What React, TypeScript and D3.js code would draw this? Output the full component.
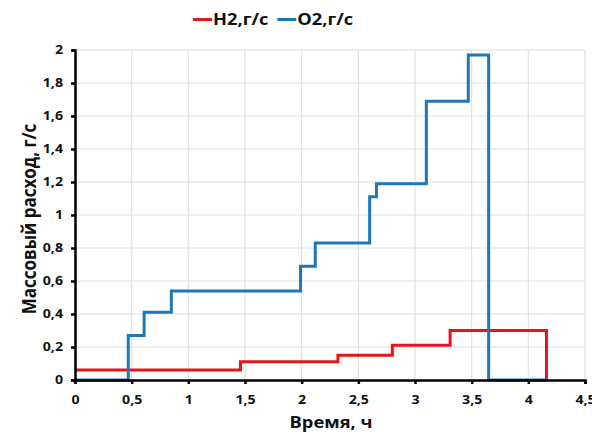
import React, { useEffect, useRef } from 'react';
import * as d3 from 'd3';

// step series: [time, value] - value holds from this time to the next point
const h2Steps: [number, number][] = [
  [0, 0.06], [1.46, 0.11], [2.32, 0.15], [2.8, 0.21], [3.31, 0.3], [4.16, 0]
];
const o2Steps: [number, number][] = [
  [0, 0], [0.47, 0.27], [0.61, 0.41], [0.85, 0.54], [1.99, 0.69], [2.12, 0.83],
  [2.6, 1.11], [2.66, 1.19], [3.1, 1.69], [3.47, 1.97], [3.65, 0], [4.16, 0]
];
const xTicks = [0, 0.5, 1, 1.5, 2, 2.5, 3, 3.5, 4, 4.5];
const yTicks = [0, 0.2, 0.4, 0.6, 0.8, 1, 1.2, 1.4, 1.6, 1.8, 2];

const series = [
  { name: 'H2,г/с', color: '#e8141b', data: h2Steps },
  { name: 'O2,г/с', color: '#1f77b8', data: o2Steps }
];

const W = 592, H = 435;
const FONT = '"Open Sans", "Noto Sans", sans-serif';
const SX = 1.18; // text in the source is a bit wide
const fmt = (v: number) => String(v).replace('.', ',');

export default function App() {
  const ref = useRef<SVGSVGElement>(null);

  useEffect(() => {
    document.body.style.margin = '0';
    document.body.style.overflow = 'hidden';

    const svg = d3.select(ref.current);
    svg.selectAll('*').remove();

    const m = { left: 75, right: 7, top: 50, bottom: 55 };
    const x = d3.scaleLinear().domain([0, 4.5]).range([m.left, W - m.right]);
    const y = d3.scaleLinear().domain([0, 2]).range([H - m.bottom, m.top]);

    svg.append('rect').attr('width', W).attr('height', H).attr('fill', 'white');

    // grid
    const grid = svg.append('g').attr('stroke', '#e0e0e0').attr('stroke-width', 1.2);
    xTicks.slice(1).forEach(t => {
      grid.append('line').attr('x1', x(t)).attr('x2', x(t)).attr('y1', y(0)).attr('y2', y(2));
    });
    yTicks.slice(1).forEach(t => {
      grid.append('line').attr('x1', x(0)).attr('x2', x(4.5)).attr('y1', y(t)).attr('y2', y(t));
    });

    // step lines
    const line = d3.line<[number, number]>()
      .x(d => x(d[0]))
      .y(d => y(d[1]))
      .curve(d3.curveStepAfter);

    series.forEach(s => {
      svg.append('path')
        .datum(s.data)
        .attr('d', line)
        .attr('fill', 'none')
        .attr('stroke', s.color)
        .attr('stroke-width', 3)
        .attr('stroke-linejoin', 'miter');
    });

    // axes
    const xAxis = svg.append('g')
      .attr('transform', `translate(0,${y(0)})`)
      .call(d3.axisBottom(x).tickValues(xTicks).tickFormat(d => fmt(d as number)).tickSize(4).tickPadding(11));
    const yAxis = svg.append('g')
      .attr('transform', `translate(${x(0)},0)`)
      .call(d3.axisLeft(y).tickValues(yTicks).tickFormat(d => fmt(d as number)).tickSize(4).tickPadding(6.2));

    [xAxis, yAxis].forEach(a => {
      a.select('.domain').attr('stroke', '#000').attr('stroke-width', 2.5);
      a.selectAll('.tick line').attr('stroke', '#000').attr('stroke-width', 2.5);
      a.selectAll('.tick text')
        .attr('fill', '#111')
        .attr('font-family', FONT)
        .attr('font-size', 12)
        .attr('font-weight', 700)
        .attr('transform', `scale(${SX},1)`);
    });

    // axis titles
    svg.append('text')
      .attr('transform', `translate(331,428) scale(${SX},1)`)
      .attr('text-anchor', 'middle')
      .attr('font-family', FONT)
      .attr('font-size', 15.5)
      .attr('font-weight', 700)
      .attr('fill', '#111')
      .text('Время, ч');

    svg.append('text')
      .attr('transform', `translate(36,219) scale(${SX},1) rotate(-90)`)
      .attr('text-anchor', 'middle')
      .attr('font-family', FONT)
      .attr('font-size', 17)
      .attr('font-weight', 700)
      .attr('fill', '#111')
      .text('Массовый расход, г/с');

    // legend
    const legend = svg.append('g').attr('transform', 'translate(193,19.5)');
    let off = 0;
    series.forEach(s => {
      legend.append('line')
        .attr('x1', off).attr('x2', off + 19)
        .attr('y1', 0).attr('y2', 0)
        .attr('stroke', s.color).attr('stroke-width', 3);
      const t = legend.append('text')
        .attr('transform', `translate(${off + 20},5.5) scale(${SX},1)`)
        .attr('font-family', FONT)
        .attr('font-size', 15.5)
        .attr('font-weight', 700)
        .attr('fill', '#111')
        .text(s.name);
      const w = (t.node() as SVGTextElement).getComputedTextLength() * SX;
      off += 20 + w + 9;
    });
  }, []);

  return <svg ref={ref} width={W} height={H} style={{ display: 'block' }} />;
}
